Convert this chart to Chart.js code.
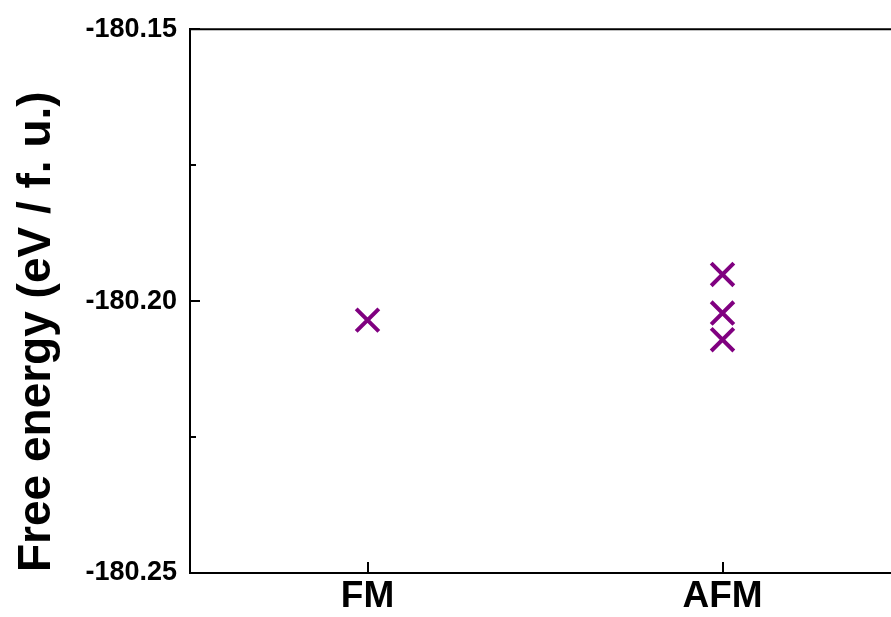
<!DOCTYPE html>
<html>
<head>
<meta charset="utf-8">
<script src="https://cdn.jsdelivr.net/npm/chart.js@4/dist/chart.umd.min.js"></script>
<style>
  html, body { margin: 0; padding: 0; background: #fff; overflow: hidden; }
  #wrap { width: 910px; height: 617px; }
</style>
</head>
<body>
<div id="wrap"><canvas id="c" width="910" height="617"></canvas></div>
<script>
// Magnetic configurations and computed free energies (eV per formula unit)
const categories = ['FM', 'AFM'];
const fmEnergies = [-180.2035];
const afmEnergies = [-180.1951, -180.2022, -180.2071];
const yMin = -180.25;
const yMax = -180.15;
const yStep = 0.025;
const yTitle = 'Free energy (eV / f. u.)';

const FONT = '"Liberation Sans", Arial, Helvetica, sans-serif';
const PURPLE = '#800080';

const points = [
  ...fmEnergies.map(v => ({ x: 'FM', y: v })),
  ...afmEnergies.map(v => ({ x: 'AFM', y: v }))
];

// Frame top edge, inward tick marks and the rotated axis title
const framePlugin = {
  id: 'frame',
  afterDraw(chart) {
    const { ctx, chartArea: a, scales } = chart;
    const ys = scales.y, xs = scales.x;
    ctx.save();
    ctx.strokeStyle = '#000';
    ctx.lineWidth = 2;
    ctx.beginPath();
    ctx.moveTo(a.left - 1, a.top);
    ctx.lineTo(a.right, a.top);
    ctx.stroke();
    // y ticks
    ys.ticks.forEach(t => {
      const py = Math.round(ys.getPixelForValue(t.value));
      const major = Math.round(t.value * 1000) % 50 === 0;
      const len = major ? 10 : 6;
      ctx.beginPath();
      ctx.moveTo(a.left, py);
      ctx.lineTo(a.left + len, py);
      ctx.stroke();
    });
    // x ticks
    categories.forEach((c, i) => {
      const px = Math.round(xs.getPixelForValue(i));
      ctx.beginPath();
      ctx.moveTo(px, a.bottom);
      ctx.lineTo(px, a.bottom - 11);
      ctx.stroke();
    });
    // y title
    ctx.fillStyle = '#000';
    ctx.font = 'bold 46px ' + FONT;
    ctx.translate(50, 572);
    ctx.rotate(-Math.PI / 2);
    ctx.textAlign = 'left';
    ctx.textBaseline = 'alphabetic';
    ctx.fillText(yTitle, 0, 0);
    ctx.restore();
  }
};

new Chart(document.getElementById('c'), {
  type: 'line',
  data: {
    labels: categories,
    datasets: [{
      data: points,
      showLine: false,
      clip: false,
      pointStyle: 'crossRot',
      pointRadius: 16,
      pointHoverRadius: 16,
      pointBorderWidth: 4,
      pointHoverBorderWidth: 4,
      borderColor: PURPLE,
      backgroundColor: PURPLE
    }]
  },
  options: {
    responsive: false,
    animation: false,
    events: [],
    layout: { autoPadding: false, padding: { top: 29, right: 10, left: 0, bottom: 0 } },
    plugins: { legend: { display: false }, tooltip: { enabled: false } },
    scales: {
      x: {
        type: 'category',
        offset: true,
        grid: { display: false, drawTicks: false },
        border: { display: true, color: '#000', width: 2 },
        ticks: {
          color: '#000',
          padding: 2,
          font: { family: FONT, size: 37, weight: 'bold' }
        },
        afterFit(scale) { scale.height = 44; }
      },
      y: {
        type: 'linear',
        min: yMin,
        max: yMax,
        grid: { display: false, drawTicks: false },
        border: { display: true, color: '#000', width: 2 },
        ticks: {
          stepSize: yStep,
          color: '#000',
          padding: 13,
          font: { family: FONT, size: 27, weight: 'bold' },
          callback(v) {
            return Math.round(v * 1000) % 50 === 0 ? v.toFixed(2) : '';
          }
        },
        afterFit(scale) { scale.width = 190; }
      }
    }
  },
  plugins: [framePlugin]
});
</script>
</body>
</html>
